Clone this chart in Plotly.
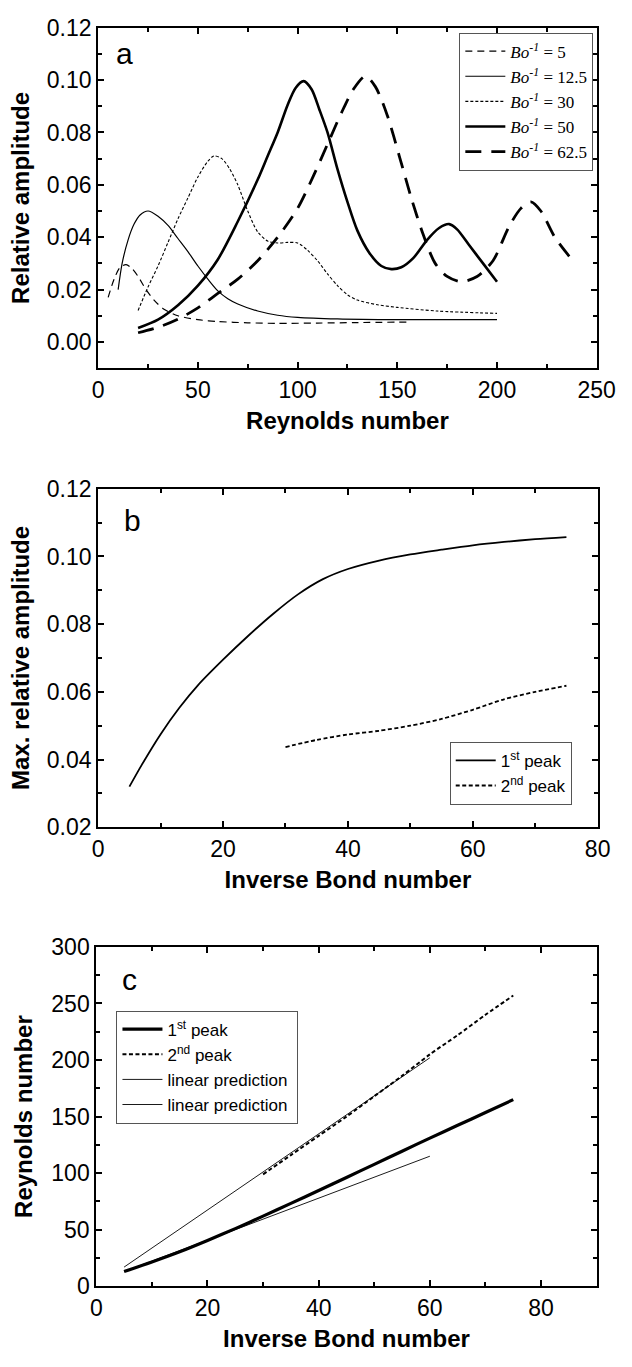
import plotly.graph_objects as go

# ---- Panel (a): relative amplitude vs Reynolds number for several inverse Bond numbers
re_bo5 = [5, 8, 11, 14, 17, 20, 24, 28, 33, 40, 50, 60, 75, 90, 110, 130, 157]
amp_bo5 = [0.017, 0.024, 0.0285, 0.0295, 0.028, 0.025, 0.020, 0.016, 0.0125, 0.0100,
           0.0085, 0.0078, 0.0073, 0.0071, 0.0072, 0.0074, 0.0076]

re_bo12 = [10, 12, 15, 18, 21, 25, 30, 35, 40, 45, 50, 55, 60, 65, 70, 80, 90, 100, 120, 150, 200]
amp_bo12 = [0.020, 0.030, 0.039, 0.045, 0.0485, 0.050, 0.048, 0.0445, 0.0395, 0.0345, 0.029,
            0.024, 0.0195, 0.0165, 0.0145, 0.0118, 0.0102, 0.0094, 0.0088, 0.0085, 0.0085]

re_bo30 = [20, 25, 30, 35, 40, 45, 50, 55, 58, 62, 66, 70, 75, 80, 85, 90, 95, 100, 105, 110,
           115, 120, 125, 130, 140, 150, 170, 200]
amp_bo30 = [0.012, 0.021, 0.029, 0.038, 0.047, 0.055, 0.063, 0.069, 0.0710, 0.0700, 0.0660,
            0.060, 0.050, 0.042, 0.0385, 0.0378, 0.0380, 0.0378, 0.035, 0.031, 0.026, 0.0215,
            0.018, 0.0160, 0.0142, 0.0132, 0.0118, 0.0109]

re_bo50 = [20, 30, 40, 50, 60, 70, 80, 85, 90, 95, 99, 103, 107, 111, 115, 120, 125, 130, 136,
           142, 147, 152, 158, 165, 171, 176, 180, 186, 193, 200]
amp_bo50 = [0.0053, 0.0085, 0.0140, 0.0215, 0.0315, 0.046, 0.062, 0.071, 0.080, 0.0905, 0.0970,
            0.0996, 0.0965, 0.0886, 0.080, 0.066, 0.0535, 0.0425, 0.034, 0.029, 0.0278, 0.0285,
            0.032, 0.039, 0.0435, 0.045, 0.043, 0.037, 0.030, 0.023]

re_bo62 = [20, 30, 40, 50, 60, 70, 80, 90, 100, 108, 115, 122, 128, 134, 139, 145, 151, 157,
           163, 169, 175, 182, 190, 198, 206, 212, 217, 222, 229, 237]
amp_bo62 = [0.0035, 0.0056, 0.0087, 0.013, 0.0185, 0.024, 0.031, 0.040, 0.051, 0.0635, 0.0755,
            0.0875, 0.0965, 0.1015, 0.0975, 0.0865, 0.071, 0.055, 0.041, 0.030, 0.025, 0.023,
            0.025, 0.031, 0.044, 0.051, 0.0535, 0.050, 0.040, 0.032]

# ---- Panel (b): maximum relative amplitude vs inverse Bond number
bo_peak1 = [5, 7, 10, 13, 16, 20, 24, 28, 32, 36, 40, 45, 50, 55, 60, 65, 70, 75]
amp_peak1 = [0.032, 0.0385, 0.0475, 0.0553, 0.0620, 0.0695, 0.0765, 0.0830, 0.0888, 0.0933,
             0.0963, 0.0988, 0.1006, 0.1020, 0.1033, 0.1043, 0.1051, 0.1057]
bo_peak2 = [30, 35, 40, 45, 50, 55, 60, 65, 70, 75]
amp_peak2 = [0.0437, 0.0458, 0.0474, 0.0485, 0.0500, 0.0520, 0.0547, 0.0578, 0.0600, 0.0618]

# ---- Panel (c): Reynolds number of the peaks vs inverse Bond number
bo_re1 = [5, 10, 15, 20, 25, 30, 35, 40, 45, 50, 55, 60, 65, 70, 75]
re_peak1 = [13, 21.5, 30.5, 40.5, 51, 62, 73.3, 84.7, 96.2, 107.8, 119.4, 131, 142.3, 153.6, 165]
bo_re2 = [30, 35, 40, 45, 50, 55, 60, 65, 70, 75]
re_peak2 = [99, 116, 133, 150, 168, 186, 205, 222, 240, 257]
bo_lin = [5, 60]
re_lin_upper = [17, 202]
re_lin_lower = [13, 115]

W, H = 632, 1367


def xdom(left, right):
    return [left / W, right / W]


def ydom(top, bottom):
    return [1 - bottom / H, 1 - top / H]


SANS = "Liberation Sans, Arial, sans-serif"
SERIF = "Liberation Serif, Times New Roman, serif"

fig = go.Figure()


def add(x, y, name, width, dash, xa, ya, legend):
    fig.add_trace(go.Scatter(
        x=x, y=y, name=name, mode="lines",
        line=dict(color="black", width=width, dash=dash, shape="spline", smoothing=0.8),
        xaxis=xa, yaxis=ya, legend=legend, legendgroup=name + legend,
    ))


bo = "<i>Bo</i><sup><i>-1</i></sup>"
add(re_bo5, amp_bo5, f"{bo} = 5", 1.2, "7px,5px", "x", "y", "legend")
add(re_bo12, amp_bo12, f"{bo} = 12.5", 1.2, "solid", "x", "y", "legend")
add(re_bo30, amp_bo30, f"{bo} = 30", 1.1, "3px,2px", "x", "y", "legend")
add(re_bo50, amp_bo50, f"{bo} = 50", 2.6, "solid", "x", "y", "legend")
add(re_bo62, amp_bo62, f"{bo} = 62.5", 2.8, "16px,10px", "x", "y", "legend")

add(bo_peak1, amp_peak1, "1<sup>st</sup> peak", 1.8, "solid", "x2", "y2", "legend2")
add(bo_peak2, amp_peak2, "2<sup>nd</sup> peak", 1.8, "4px,2.5px", "x2", "y2", "legend2")

add(bo_re1, re_peak1, "1<sup>st</sup> peak", 3.2, "solid", "x3", "y3", "legend3")
add(bo_re2, re_peak2, "2<sup>nd</sup> peak", 2.0, "4px,2.5px", "x3", "y3", "legend3")
add(bo_lin, re_lin_upper, "linear prediction", 0.9, "solid", "x3", "y3", "legend3")
add(bo_lin, re_lin_lower, "linear prediction ", 0.9, "solid", "x3", "y3", "legend3")

TICKFONT = dict(family=SANS, size=23, color="black")
TITLEFONT = dict(family=SANS, size=24, color="black")


def axis(domain, rng, dtick, minor_dtick, title, anchor, fmt=None, standoff=None):
    d = dict(
        domain=domain, range=rng, dtick=dtick, tick0=0, anchor=anchor,
        showgrid=False, zeroline=False, showline=True, linecolor="black", linewidth=2,
        mirror="ticks", ticks="inside", ticklen=6, tickwidth=1.5, tickcolor="black",
        minor=dict(dtick=minor_dtick, ticks="inside", ticklen=4, tickwidth=1.5, tickcolor="black"),
        tickfont=TICKFONT,
        title=dict(text=f"<b>{title}</b>", font=TITLEFONT),
    )
    if fmt:
        d["tickformat"] = fmt
    if standoff is not None:
        d["title"]["standoff"] = standoff
    return d


fig.update_layout(
    width=W, height=H, margin=dict(l=0, r=0, t=0, b=0),
    paper_bgcolor="white", plot_bgcolor="white",
    xaxis=axis(xdom(96, 615), [0, 250], 50, 25, "Reynolds number", "y", standoff=10),
    yaxis=axis(ydom(15, 362), [-0.01, 0.12], 0.02, 0.01, "Relative amplitude", "x", ".2f", 10),
    xaxis2=axis(xdom(96, 616), [0, 80], 20, 10, "Inverse Bond number", "y2", standoff=10),
    yaxis2=axis(ydom(485, 830), [0.02, 0.12], 0.02, 0.01, "Max. relative amplitude", "x2", ".2f", 10),
    xaxis3=axis(xdom(94, 615), [0, 90], 20, 10, "Inverse Bond number", "y3", standoff=10),
    yaxis3=axis(ydom(952, 1298), [0, 300], 50, 25, "Reynolds number", "x3", None, 12),
    legend=dict(x=472 / W, y=1 - 20 / H, xanchor="left", yanchor="top",
                bgcolor="white", bordercolor="#555", borderwidth=1,
                font=dict(family=SERIF, size=17, color="black"),
                tracegroupgap=0, itemwidth=40),
    legend2=dict(x=462 / W, y=1 - 743 / H, xanchor="left", yanchor="top",
                 bgcolor="white", bordercolor="#555", borderwidth=1,
                 font=dict(family=SANS, size=17, color="black"),
                 tracegroupgap=0, itemwidth=40),
    legend3=dict(x=115 / W, y=1 - 1017 / H, xanchor="left", yanchor="top",
                 bgcolor="white", bordercolor="#555", borderwidth=1,
                 font=dict(family=SANS, size=17, color="black"),
                 tracegroupgap=0, itemwidth=40),
    showlegend=True,
)

# panel letters
for letter, xa, ya, xv, yv in [("a", "x", "y", 8, 0.110), ("b", "x2", "y2", 3.8, 0.1105),
                               ("c", "x3", "y3", 4.3, 271)]:
    fig.add_annotation(text=letter, x=xv, y=yv, xref=xa, yref=ya, showarrow=False,
                       xanchor="left", yanchor="middle",
                       font=dict(family=SANS, size=30, color="black"))

fig.write_html("out.html")
